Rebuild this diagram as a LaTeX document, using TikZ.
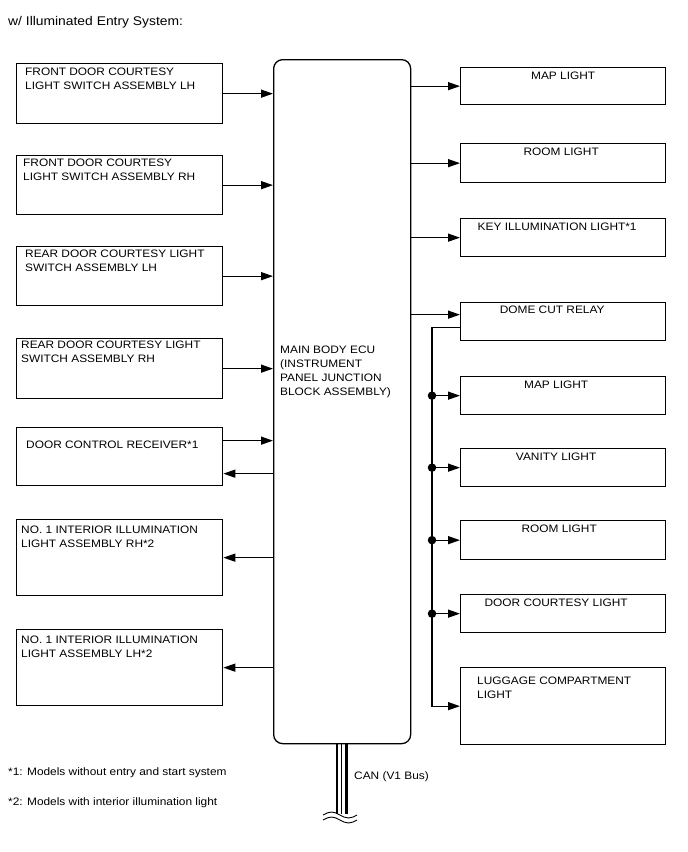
\documentclass[tikz,border=0pt]{standalone}
\usepackage{fontspec}
\setmainfont{Liberation Sans}[FakeStretch=1.1]
\usetikzlibrary{arrows.meta, positioning}

\begin{document}
\begin{tikzpicture}[x=1pt, y=-1pt,
  box/.style={draw, line width=1.3pt, anchor=north west, inner sep=0pt},
  lbox/.style={box, minimum width=206pt},
  rbox/.style={box, minimum width=205pt},
  txt/.style={font=\fontsize{10.8}{14}\selectfont, align=left, inner sep=0pt},
  arr/.style={-{Triangle[length=12pt, width=8pt]}, line width=1.3pt},
  dot/.style={circle, fill, inner sep=0pt, minimum size=8.5pt},
]
  \useasboundingbox (0,0) rectangle (688,852);

  \node[txt, font=\fontsize{12.6}{15}\selectfont, anchor=north west] (title) at (8,16) {w/ Illuminated Entry System:};

  % Main body ECU
  \node[box, rounded corners=9pt, minimum width=137pt, minimum height=684pt] (ecu) at (273,59) {};
  \node[txt, below right=287pt and 7pt of ecu.north west] (ecu-t) {MAIN BODY ECU\\(INSTRUMENT\\PANEL JUNCTION\\BLOCK ASSEMBLY)};

  % Inputs and outputs on the left
  \node[lbox, minimum height=60pt] (fdlh) at (16,63) {};
  \node[txt, below right=5pt and 9pt of fdlh.north west] (fdlh-t) {FRONT DOOR COURTESY\\LIGHT SWITCH ASSEMBLY LH};
  \node[lbox, minimum height=59pt] (fdrh) at (16,155) {};
  \node[txt, below right=4pt and 7pt of fdrh.north west] (fdrh-t) {FRONT DOOR COURTESY\\LIGHT SWITCH ASSEMBLY RH};
  \node[lbox, minimum height=59pt] (rdlh) at (16,246) {};
  \node[txt, below right=4pt and 9pt of rdlh.north west] (rdlh-t) {REAR DOOR COURTESY LIGHT\\SWITCH ASSEMBLY LH};
  \node[lbox, minimum height=60pt] (rdrh) at (16,338) {};
  \node[txt, below right=3pt and 5pt of rdrh.north west] (rdrh-t) {REAR DOOR COURTESY LIGHT\\SWITCH ASSEMBLY RH};
  \node[lbox, minimum height=58pt] (dcr) at (16,427) {};
  \node[txt, below right=14pt and 10pt of dcr.north west] (dcr-t) {DOOR CONTROL RECEIVER*1};
  \node[lbox, minimum height=76pt] (illrh) at (16,519) {};
  \node[txt, below right=7pt and 5pt of illrh.north west] (illrh-t) {NO. 1 INTERIOR ILLUMINATION\\LIGHT ASSEMBLY RH*2};
  \node[lbox, minimum height=76pt] (illlh) at (16,629) {};
  \node[txt, below right=7pt and 5pt of illlh.north west] (illlh-t) {NO. 1 INTERIOR ILLUMINATION\\LIGHT ASSEMBLY LH*2};

  % Loads on the right
  \node[rbox, minimum height=37pt] (map1) at (460,67) {};
  \node[txt, below=5pt of map1.north] (map1-t) {MAP LIGHT};
  \node[rbox, minimum height=39pt] (room1) at (460,143) {};
  \node[txt, below=5pt of room1.north, xshift=-2pt] (room1-t) {ROOM LIGHT};
  \node[rbox, minimum height=38pt] (key) at (460,218) {};
  \node[txt, below=5pt of key.north, xshift=-6pt] (key-t) {KEY ILLUMINATION LIGHT*1};
  \node[rbox, minimum height=38pt] (relay) at (460,302) {};
  \node[txt, below=4pt of relay.north, xshift=-11pt] (relay-t) {DOME CUT RELAY};
  \node[rbox, minimum height=38pt] (map2) at (460,376) {};
  \node[txt, below=5pt of map2.north, xshift=-7pt] (map2-t) {MAP LIGHT};
  \node[rbox, minimum height=38pt] (vanity) at (460,448) {};
  \node[txt, below=5pt of vanity.north, xshift=-7pt] (vanity-t) {VANITY LIGHT};
  \node[rbox, minimum height=39pt] (room2) at (460,520) {};
  \node[txt, below=5pt of room2.north, xshift=-4pt] (room2-t) {ROOM LIGHT};
  \node[rbox, minimum height=38pt] (door) at (460,594) {};
  \node[txt, below=5pt of door.north, xshift=-7pt] (door-t) {DOOR COURTESY LIGHT};
  \node[rbox, minimum height=77pt] (lug) at (460,667) {};
  \node[txt, below right=10pt and 17pt of lug.north west] (lug-t) {LUGGAGE COMPARTMENT\\LIGHT};

  \coordinate (bus) at (432,0);

  % Signals into the ECU
  \foreach \n in {fdlh, fdrh, rdlh, rdrh}
    \draw[arr] (\n.east) -- (\n.east -| ecu.west);
  \draw[arr] ([yshift=16pt]dcr.east) -- ([yshift=16pt]dcr.east -| ecu.west);

  % Outputs to the left
  \draw[arr] ([yshift=-17pt]dcr.east -| ecu.west) -- ([yshift=-17pt]dcr.east);
  \foreach \n in {illrh, illlh}
    \draw[arr] (\n.east -| ecu.west) -- (\n.east);

  % Outputs to the right
  \foreach \n in {map1, room1, key}
    \draw[arr] (\n.west -| ecu.east) -- (\n.west);
  \draw[arr] ([yshift=7pt]relay.west -| ecu.east) -- ([yshift=7pt]relay.west);

  % Dome cut relay branch
  \draw[arr] ([yshift=-6pt]relay.west) -| (bus |- lug.west) -- (lug.west);
  \foreach \n in {map2, vanity, room2, door}
    \draw[arr] (bus |- \n.west) node[dot] (dot-\n) {} -- (\n.west);

  % CAN bus
  \coordinate (can) at (ecu.south);
  \draw[line width=2.3pt] ([xshift=-5.5pt]can) -- ++(0,70);
  \draw[line width=1pt] ([xshift=-0.8pt]can) -- ++(0,70);
  \draw[line width=3.5pt] ([xshift=4.5pt]can) -- ++(0,70);
  \draw[line width=0.9pt] (323,815) sin (331.5,812) cos (340,815) sin (348.5,818) cos (357,815);
  \draw[line width=0.9pt] (323,820) sin (331.5,817) cos (340,820) sin (348.5,823) cos (357,820);
  \node[txt, anchor=base west] (can-t) at (354,779) {CAN (V1 Bus)};

  % Notes
  \node[txt, anchor=base west] (note1) at (8,775) {*1: Models without entry and start system};
  \node[txt, anchor=base west] (note2) at (8,805) {*2: Models with interior illumination light};
\end{tikzpicture}
\end{document}
